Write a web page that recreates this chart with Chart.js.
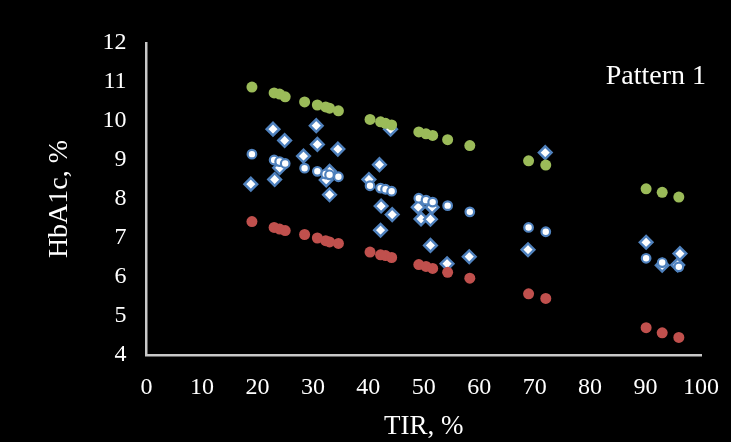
<!DOCTYPE html>
<html>
<head>
<meta charset="utf-8">
<title>HbA1c vs TIR</title>
<script src="https://cdn.jsdelivr.net/npm/chart.js@4"></script>
<style>
  html, body { margin: 0; padding: 0; background: #000; }
  #chart { display: block; }
</style>
</head>
<body>
<canvas id="chart" width="731" height="442"></canvas>
<script>
// Model curve: TIR with mean HbA1c and upper / lower bounds
const tirModel   = [19, 23, 24, 25, 28.5, 30.8, 32.3, 33, 34.6, 40.3, 42.2, 43.1, 44.2, 49.1, 50.4, 51.6, 54.3, 58.3, 68.9, 72, 90.1, 93, 96];
const hba1cUpper = [10.87, 10.72, 10.69, 10.62, 10.49, 10.41, 10.36, 10.33, 10.26, 10.04, 9.98, 9.94, 9.9, 9.72, 9.67, 9.63, 9.52, 9.37, 8.98, 8.87, 8.26, 8.17, 8.05];
const hba1cMean  = [9.15, 9.0, 8.96, 8.91, 8.79, 8.71, 8.64, 8.62, 8.57, 8.34, 8.28, 8.25, 8.2, 8.02, 7.97, 7.92, 7.83, 7.67, 7.27, 7.16, 6.48, 6.37, 6.26];
const hba1cLower = [7.42, 7.27, 7.23, 7.19, 7.09, 7.0, 6.93, 6.9, 6.86, 6.64, 6.57, 6.55, 6.5, 6.32, 6.27, 6.22, 6.12, 5.97, 5.57, 5.45, 4.7, 4.57, 4.45];

// Observed patients
const tirObserved   = [18.8, 22.8, 23.1, 24.0, 24.9, 28.3, 30.6, 30.8, 32.4, 33.0, 33.0, 34.5, 40.1, 42.0, 42.3, 42.2, 44.0, 44.3, 49.0, 49.5, 51.2, 51.5, 51.2, 54.2, 58.2, 68.8, 71.9, 90.1, 93.0, 96.2, 95.8];
const hba1cObserved = [8.38, 9.79, 8.5, 8.8, 9.5, 9.1, 9.88, 9.4, 8.49, 8.71, 8.11, 9.28, 8.5, 8.88, 7.82, 7.2, 9.79, 7.6, 7.79, 7.49, 7.48, 7.79, 6.81, 6.34, 6.52, 6.7, 9.19, 6.89, 6.3, 6.6, 6.31];

const patternText = 'Pattern 1';
const serif = '"Liberation Serif", "Times New Roman", serif';

function toPoints(xs, ys) {
    return xs.map((x, i) => ({ x: x, y: ys[i] }));
}

// Label in the upper right corner of the plot
const patternLabel = {
    id: 'patternLabel',
    afterDraw(chart) {
        const { ctx, chartArea } = chart;
        ctx.save();
        ctx.font = '28px ' + serif;
        ctx.fillStyle = '#ffffff';
        ctx.textAlign = 'right';
        ctx.textBaseline = 'middle';
        ctx.fillText(patternText, chartArea.right + 5, chartArea.top + 34);
        ctx.restore();
    }
};

const ctx = document.getElementById('chart').getContext('2d');
new Chart(ctx, {
    type: 'scatter',
    data: {
        datasets: [
            {
                label: 'Upper',
                data: toPoints(tirModel, hba1cUpper),
                pointStyle: 'circle',
                pointRadius: 5.5,
                borderWidth: 0,
                backgroundColor: '#9bbb59',
                borderColor: '#9bbb59'
            },
            {
                label: 'Lower',
                data: toPoints(tirModel, hba1cLower),
                pointStyle: 'circle',
                pointRadius: 5.5,
                borderWidth: 0,
                backgroundColor: '#c0504d',
                borderColor: '#c0504d'
            },
            {
                label: 'Mean',
                data: toPoints(tirModel, hba1cMean),
                pointStyle: 'circle',
                pointRadius: 4.3,
                borderWidth: 2.2,
                backgroundColor: '#ffffff',
                borderColor: '#4f81bd'
            },
            {
                label: 'Observed',
                data: toPoints(tirObserved, hba1cObserved),
                pointStyle: 'rectRot',
                pointRadius: 6.3,
                borderWidth: 2.5,
                backgroundColor: '#ffffff',
                borderColor: '#4f81bd'
            }
        ]
    },
    options: {
        responsive: false,
        animation: false,
        layout: {
            padding: { left: 40, right: 30, top: 43, bottom: 0 }
        },
        plugins: {
            legend: { display: false },
            tooltip: { enabled: false }
        },
        scales: {
            x: {
                type: 'linear',
                min: 0,
                max: 100,
                border: { display: true, color: '#c8c8c8', width: 2.5 },
                // tick marks hidden, their length only spaces the labels
                grid: { display: false, drawTicks: true, tickLength: 18 },
                ticks: {
                    stepSize: 10,
                    color: '#ffffff',
                    padding: 3,
                    maxRotation: 0,
                    font: { family: serif, size: 24, lineHeight: 1 }
                },
                title: {
                    display: true,
                    text: 'TIR, %',
                    color: '#ffffff',
                    padding: { top: 10.5, bottom: 1.5 },
                    font: { family: serif, size: 27, lineHeight: 1 }
                }
            },
            y: {
                type: 'linear',
                min: 4,
                max: 12,
                border: { display: true, color: '#c8c8c8', width: 2.5 },
                grid: { display: false, drawTicks: false },
                ticks: {
                    stepSize: 1,
                    color: '#ffffff',
                    padding: 20,
                    font: { family: serif, size: 24 }
                },
                title: {
                    display: true,
                    text: 'HbA1c, %',
                    color: '#ffffff',
                    padding: { top: 3, bottom: 6 },
                    font: { family: serif, size: 28, lineHeight: 1.2 }
                }
            }
        }
    },
    plugins: [patternLabel]
});
</script>
</body>
</html>
